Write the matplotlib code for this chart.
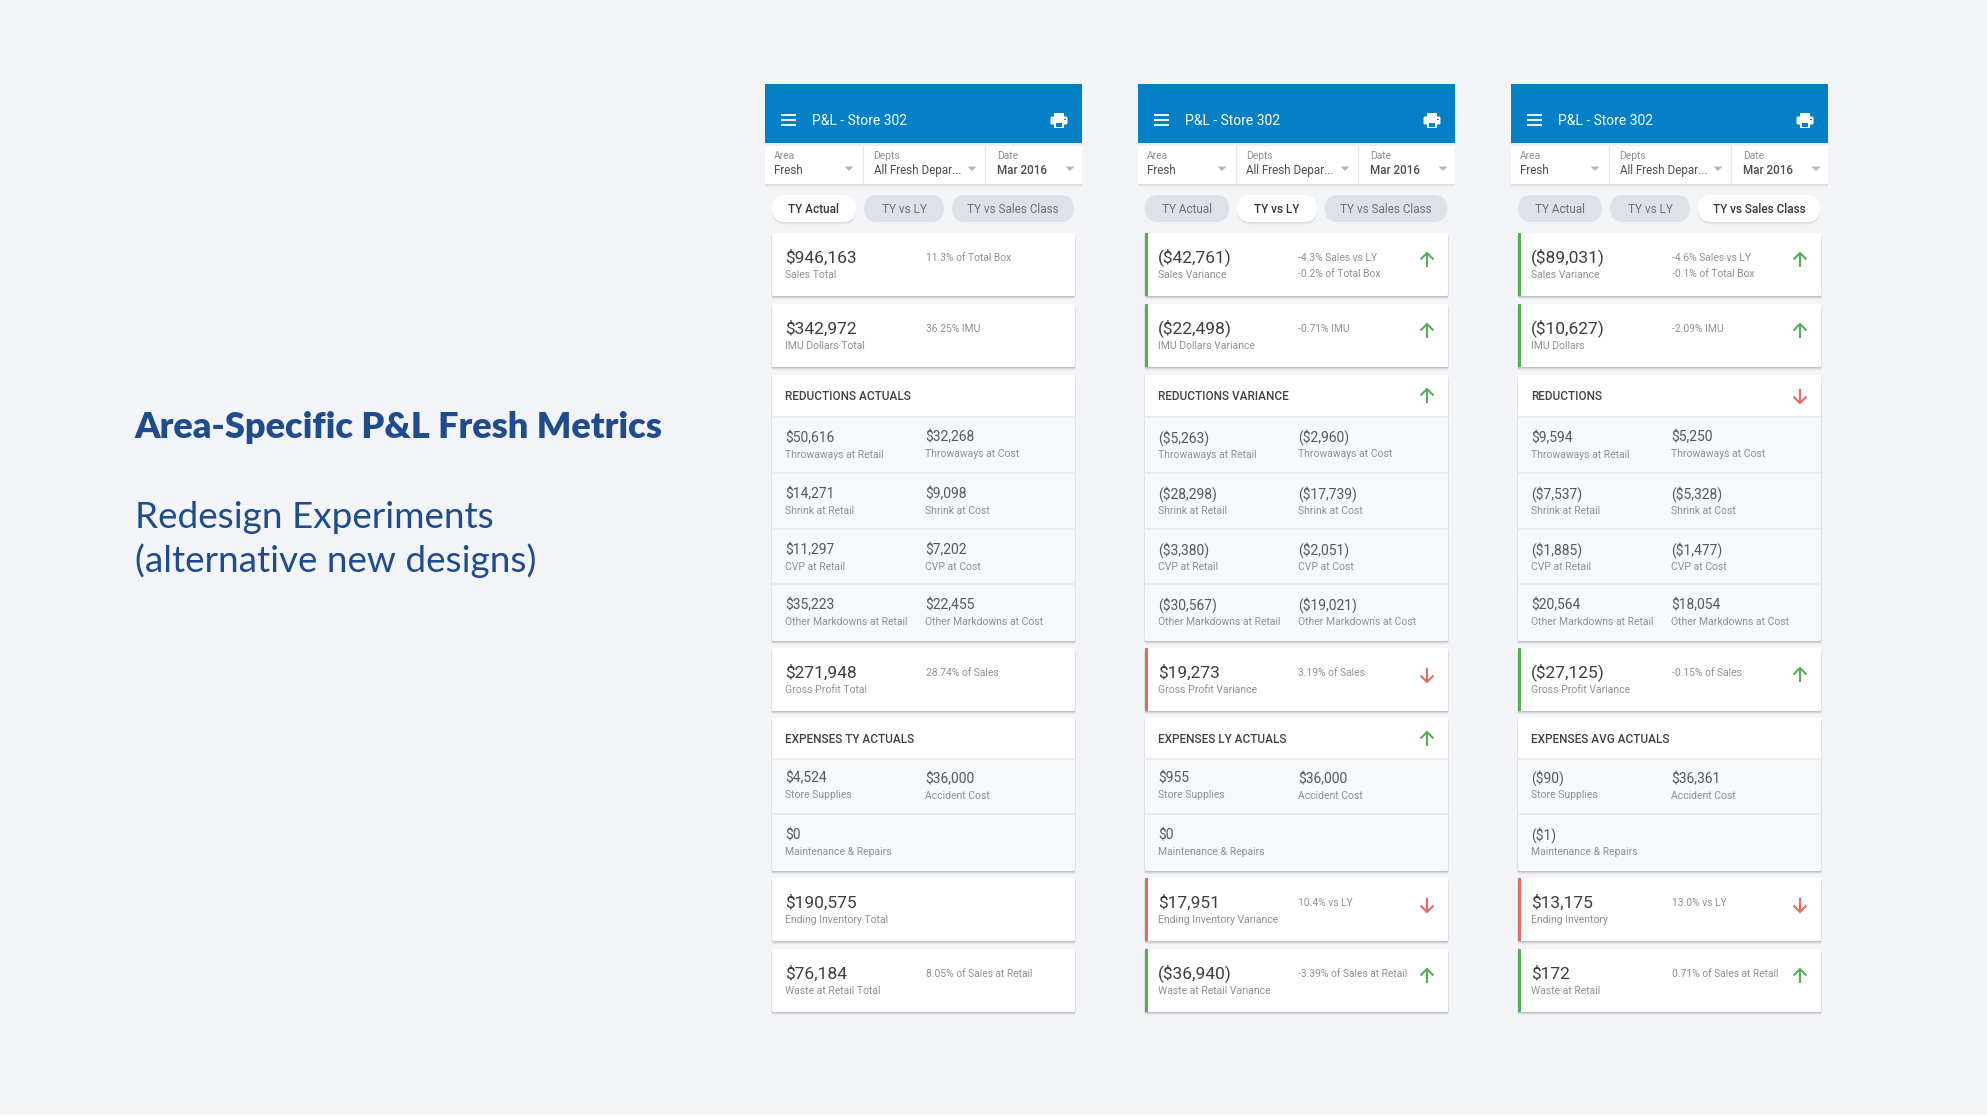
import matplotlib
matplotlib.use("Agg")
import matplotlib.pyplot as plt
from matplotlib.patches import Rectangle, FancyBboxPatch, Polygon

plt.rcParams['font.family'] = ['Roboto', 'DejaVu Sans']

# data, one entry per screen
panel_x = [765, 1138, 1511]
active_tab = [0, 1, 2]
tabs = ["TY Actual", "TY vs LY", "TY vs Sales Class"]

sales_values = ["$946,163", "($42,761)", "($89,031)"]
sales_labels = ["Sales Total", "Sales Variance", "Sales Variance"]
sales_notes = [["11.3% of Total Box"], ["-4.3% Sales vs LY", "-0.2% of Total Box"], ["-4.6% Sales vs LY", "-0.1% of Total Box"]]
sales_status = [None, "up", "up"]

imu_values = ["$342,972", "($22,498)", "($10,627)"]
imu_labels = ["IMU Dollars Total", "IMU Dollars Variance", "IMU Dollars"]
imu_notes = [["36.25% IMU"], ["-0.71% IMU"], ["-2.09% IMU"]]
imu_status = [None, "up", "up"]

reduction_titles = ["REDUCTIONS ACTUALS", "REDUCTIONS VARIANCE", "REDUCTIONS"]
reduction_status = [None, "up", "down"]
throw_retail = ["$50,616", "($5,263)", "$9,594"]
throw_cost = ["$32,268", "($2,960)", "$5,250"]
shrink_retail = ["$14,271", "($28,298)", "($7,537)"]
shrink_cost = ["$9,098", "($17,739)", "($5,328)"]
cvp_retail = ["$11,297", "($3,380)", "($1,885)"]
cvp_cost = ["$7,202", "($2,051)", "($1,477)"]
other_retail = ["$35,223", "($30,567)", "$20,564"]
other_cost = ["$22,455", "($19,021)", "$18,054"]

gp_values = ["$271,948", "$19,273", "($27,125)"]
gp_labels = ["Gross Profit Total", "Gross Profit Variance", "Gross Profit Variance"]
gp_notes = [["28.74% of Sales"], ["3.19% of Sales"], ["-0.15% of Sales"]]
gp_status = [None, "down", "up"]

expense_titles = ["EXPENSES TY ACTUALS", "EXPENSES LY ACTUALS", "EXPENSES AVG ACTUALS"]
expense_status = [None, "up", None]
supplies = ["$4,524", "$955", "($90)"]
accident = ["$36,000", "$36,000", "$36,361"]
maintenance = ["$0", "$0", "($1)"]

inv_values = ["$190,575", "$17,951", "$13,175"]
inv_labels = ["Ending Inventory Total", "Ending Inventory Variance", "Ending Inventory"]
inv_notes = [[], ["10.4% vs LY"], ["13.0% vs LY"]]
inv_status = [None, "down", "down"]

waste_values = ["$76,184", "($36,940)", "$172"]
waste_labels = ["Waste at Retail Total", "Waste at Retail Variance", "Waste at Retail"]
waste_notes = [["8.05% of Sales at Retail"], ["-3.39% of Sales at Retail"], ["0.71% of Sales at Retail"]]
waste_status = [None, "up", "up"]

BG = "#F2F4F7"
BLUE = "#0480C6"
NAVY = "#1F4C8F"
DARK = "#3B3F44"
MID = "#55595E"
GREY = "#8E9195"
GREEN = "#55AE58"
RED = "#E56A5F"
ROW_BG = "#F6F8FA"
LINE = "#E6E8EB"

fig = plt.figure(figsize=(1987 / 100, 1117 / 100), dpi=100, facecolor=BG)
ax = fig.add_axes([0, 0, 1, 1])
ax.set_xlim(0, 1987)
ax.set_ylim(1117, 0)
ax.axis("off")


def rect(x0, y0, x1, y1, color, z=2, alpha=None):
    ax.add_patch(Rectangle((x0, y0), x1 - x0, y1 - y0, facecolor=color, edgecolor="none", zorder=z, alpha=alpha))


def card_box(x0, y0, x1, y1, color="white"):
    # soft material-style shadow under the card
    for off, a in ((3, 0.10), (2, 0.16), (1, 0.25)):
        ax.add_patch(FancyBboxPatch((x0 - 0.3, y0 + off), x1 - x0 + 0.6, y1 - y0, boxstyle="round,pad=0,rounding_size=1.5",
                                    facecolor="#7C8087", edgecolor="none", alpha=a, zorder=1))
    ax.add_patch(FancyBboxPatch((x0, y0), x1 - x0, y1 - y0, boxstyle="round,pad=0,rounding_size=1.5",
                                facecolor=color, edgecolor="none", zorder=2))


def arrow(cx, cy, status):
    c = GREEN if status == "up" else RED
    d = -1 if status == "up" else 1
    ax.plot([cx, cx], [cy - 7 * d, cy + 7 * d], color=c, lw=1.5, zorder=4, solid_capstyle="butt")
    ax.plot([cx - 6.5, cx, cx + 6.5], [cy + 0.5 * d, cy + 7 * d, cy + 0.5 * d], color=c, lw=1.5, zorder=4,
            solid_joinstyle="miter", solid_capstyle="butt")


def txt(x, y, s, size, color, weight="normal", **kw):
    ax.text(x, y + 1.2, s, fontsize=size, color=color, fontweight=weight, va="center", ha=kw.pop("ha", "left"), zorder=5, **kw)


def metric_card(px, top, value, label, notes, status):
    x0, x1 = px + 7, px + 310
    bottom = top + 63
    card_box(x0, top, x1, bottom)
    if status:
        rect(x0, top, x0 + 2.8, bottom, GREEN if status == "up" else RED, z=3)
        arrow(px + 289, top + 27, status)
    txt(px + 20.2, top + 23.2, value, 12.5, DARK)
    txt(px + 20.2, top + 41.2, label, 7.5, GREY)
    for i, n in enumerate(notes):
        txt(px + 160.5, top + 23.7 + i * 16.5, n, 7.35, GREY)


def table_row(px, top, v1, l1, v2=None, l2=None, shift=0):
    txt(px + 20.2, top + 21, v1, 10, MID)
    txt(px + 20.2, top + 38, l1, 7.5, GREY)
    if v2:
        txt(px + 160, top + 21 + shift, v2, 10, MID)
        txt(px + 160, top + 38 + shift, l2, 7.5, GREY)


def section(px, top, title, status, row_tops, bottom):
    x0, x1 = px + 7, px + 310
    card_box(x0, top, x1, bottom, ROW_BG)
    ax.add_patch(FancyBboxPatch((x0, top), x1 - x0, 41, boxstyle="round,pad=0,rounding_size=1.5",
                                facecolor="white", edgecolor="none", zorder=2))
    for y in row_tops:
        ax.plot([x0, x1], [y, y], color=LINE, lw=1.1, zorder=3)
    txt(px + 20.2, top + 20, title, 8.5, "#3F4347", weight="medium")
    if status:
        arrow(px + 289, top + 21, status)


def hamburger(px):
    for y in (115, 120, 125):
        ax.plot([px + 16, px + 31], [y, y], color="white", lw=1.3, zorder=4, solid_capstyle="butt")


def printer(cx, cy):
    rect(cx - 5, cy - 8, cx + 5, cy - 4, "white", z=4)
    ax.add_patch(FancyBboxPatch((cx - 8.5, cy - 4), 17, 8, boxstyle="round,pad=0,rounding_size=1.5", facecolor="white", edgecolor="none", zorder=4))
    rect(cx - 5, cy + 1, cx + 5, cy + 7.5, "white", z=4)
    rect(cx - 3.3, cy + 2.6, cx + 3.3, cy + 6, BLUE, z=5)
    rect(cx + 4.8, cy - 2, cx + 6.5, cy - 0.5, BLUE, z=5)


def caret(cx, cy):
    ax.add_patch(Polygon([(cx - 4.5, cy - 2), (cx + 4.5, cy - 2), (cx, cy + 2.5)], facecolor="#B4B7BB", edgecolor="none", zorder=4))


def pill(x0, x1, text, active):
    y0, y1 = 195, 222
    r = (y1 - y0) / 2
    if active:
        for off, a in ((2.5, 0.07), (1.5, 0.12)):
            ax.add_patch(FancyBboxPatch((x0, y0 + off), x1 - x0, y1 - y0, boxstyle=f"round,pad=0,rounding_size={r}", facecolor="#7C8087", edgecolor="none", alpha=a, zorder=1))
    ax.add_patch(FancyBboxPatch((x0, y0), x1 - x0, y1 - y0, boxstyle=f"round,pad=0,rounding_size={r}",
                                facecolor="white" if active else "#DDE1E8", edgecolor="none", zorder=2))
    txt((x0 + x1) / 2, 208, text, 8.5, "#35393D" if active else "#6C7178", weight="medium" if active else "normal", ha="center")


def draw_panel(i):
    px = panel_x[i]
    # app bar
    rect(px, 84, px + 317, 143, BLUE)
    hamburger(px)
    txt(px + 47, 119.5, "P&L - Store 302", 10, "white")
    printer(px + 294, 120.5)
    # filters
    for off, a in ((2.5, 0.08), (1.2, 0.15)):
        rect(px, 143 + off, px + 317, 184 + off, "#7C8087", z=1, alpha=a)
    rect(px, 143, px + 317, 184, "white")
    rect(px, 143, px + 317, 146, "#C9D4DC", alpha=0.35)
    for dx in (98, 220):
        ax.plot([px + dx, px + dx], [146, 184], color=LINE, lw=0.9, zorder=3)
    txt(px + 9, 155, "Area", 7.4, GREY)
    txt(px + 9, 169, "Fresh", 8.4, "#4A4E53")
    txt(px + 108.5, 155, "Depts", 7.4, GREY)
    txt(px + 108.5, 169, "All Fresh Depar...", 8.4, "#4A4E53")
    txt(px + 232, 155, "Date", 7.4, GREY)
    txt(px + 232, 169.5, "Mar 2016", 8.4, "#4A4E53", weight="medium")
    for dx in (84, 207, 305):
        caret(px + dx, 168.5)
    # tabs
    spans = [(7, 91), (99, 179), (187, 309)]
    for t, (a, b) in enumerate(spans):
        pill(px + a, px + b, tabs[t], t == active_tab[i])
    # metric cards
    metric_card(px, 233, sales_values[i], sales_labels[i], sales_notes[i], sales_status[i])
    metric_card(px, 304, imu_values[i], imu_labels[i], imu_notes[i], imu_status[i])
    # reductions
    section(px, 375, reduction_titles[i], reduction_status[i], [416.5, 473, 529, 584], 641)
    table_row(px, 416, throw_retail[i], "Throwaways at Retail", throw_cost[i], "Throwaways at Cost", shift=-1)
    table_row(px, 472, shrink_retail[i], "Shrink at Retail", shrink_cost[i], "Shrink at Cost")
    table_row(px, 527.5, cvp_retail[i], "CVP at Retail", cvp_cost[i], "CVP at Cost")
    table_row(px, 583, other_retail[i], "Other Markdowns at Retail", other_cost[i], "Other Markdowns at Cost")
    metric_card(px, 648, gp_values[i], gp_labels[i], gp_notes[i], gp_status[i])
    # expenses
    section(px, 718, expense_titles[i], expense_status[i], [758.5, 814], 871)
    table_row(px, 756, supplies[i], "Store Supplies", accident[i], "Accident Cost", shift=1)
    table_row(px, 813, maintenance[i], "Maintenance & Repairs")
    metric_card(px, 878, inv_values[i], inv_labels[i], inv_notes[i], inv_status[i])
    metric_card(px, 949, waste_values[i], waste_labels[i], waste_notes[i], waste_status[i])


for i in range(3):
    draw_panel(i)

# left hand heading
ax.text(134, 427, "Area-Specific P&L Fresh Metrics", fontsize=26.05, color=NAVY, family="Lato", fontweight="heavy", va="center")
ax.text(135, 517, "Redesign Experiments", fontsize=26.6, color=NAVY, family="Lato", fontweight="normal", va="center")
ax.text(135, 561, "(alternative new designs)", fontsize=26.6, color=NAVY, family="Lato", fontweight="normal", va="center")

rect(0, 1115, 1987, 1117, "white", z=6)

fig.savefig("out.png", dpi=100, facecolor=BG)
